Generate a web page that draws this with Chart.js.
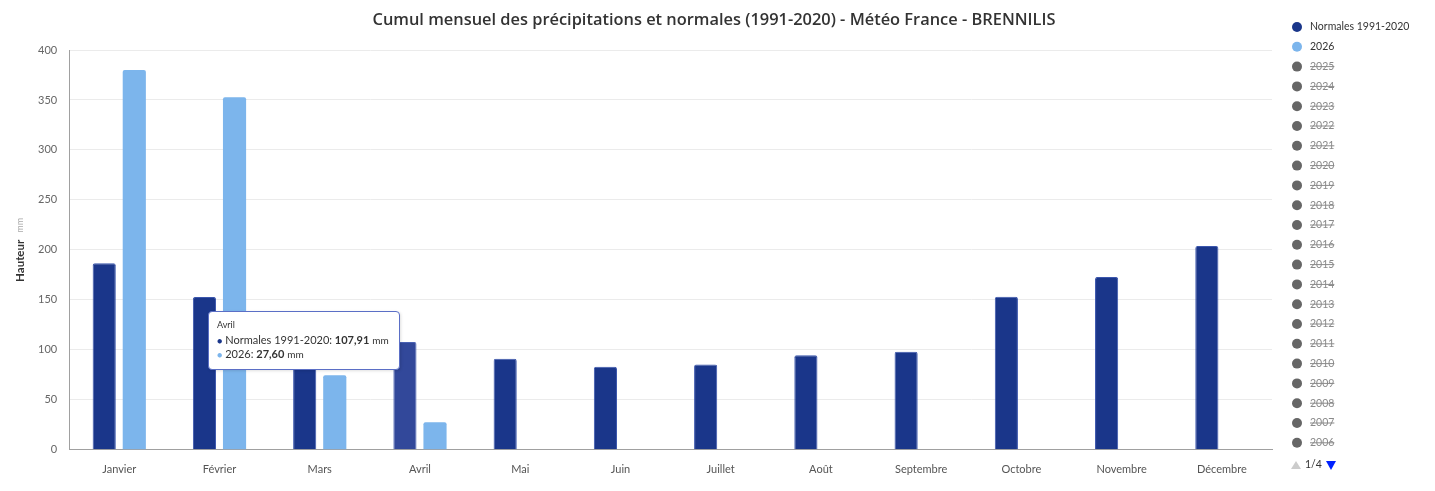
<!DOCTYPE html>
<html>
<head>
    <title>Cumul mensuel des précipitations - BRENNILIS</title>
    <script src="https://cdn.jsdelivr.net/npm/chart.js"></script>
    <style>
        body { margin: 0; background: #ffffff; font-family: Lato, sans-serif; }
        #wrap { position: relative; width: 1435px; height: 491px; }
        #tip {
            position: absolute; opacity: 0; pointer-events: none;
            background: #fff; border: 1px solid #5b6fc6; border-radius: 4px;
            padding: 7px 10px 8px 8px; font-family: Lato, sans-serif; color: #333;
            box-shadow: 1px 1px 3px rgba(0,0,0,0.12); white-space: nowrap;
        }
        #tip .t-title { font-size: 9px; margin-bottom: 3px; }
        #tip .t-row { font-size: 11px; line-height: 13px; }
        #tip .t-row small { font-size: 10px; }
    </style>
</head>
<body>
    <div id="wrap">
        <canvas id="rainChart"></canvas>
        <div id="tip"></div>
    </div>

    <script>
        console.log("JavaScript is running");

        const months = ['Janvier', 'Février', 'Mars', 'Avril', 'Mai', 'Juin', 'Juillet', 'Août', 'Septembre', 'Octobre', 'Novembre', 'Décembre'];
        const normals = [186.7, 153, 122, 107.91, 91, 83, 85.3, 94.7, 98, 153.2, 173, 203.8];
        const year2026 = [380, 352.7, 74.6, 27.6, null, null, null, null, null, null, null, null];
        const hiddenYears = ['2025', '2024', '2023', '2022', '2021', '2020', '2019', '2018', '2017', '2016',
                             '2015', '2014', '2013', '2012', '2011', '2010', '2009', '2008', '2007', '2006'];
        const yTicks = [0, 50, 100, 150, 200, 250, 300, 350, 400];

        const chartTitle = 'Cumul mensuel des précipitations et normales (1991-2020) - Météo France - BRENNILIS';

        function fmt(v) {
            return v.toFixed(2).replace('.', ',');
        }

        function externalTooltip(context) {
            const { chart, tooltip } = context;
            const el = document.getElementById('tip');
            if (tooltip.opacity === 0) {
                el.style.opacity = 0;
                return;
            }
            const idx = tooltip.dataPoints[0].dataIndex;
            let html = `<div class="t-title">${months[idx]}</div>`;
            tooltip.dataPoints.forEach(p => {
                html += `<div class="t-row"><span style="color:${p.dataset.backgroundColor};font-size:9px">●</span> ${p.dataset.label}: <b>${fmt(p.raw)}</b> <small>mm</small></div>`;
            });
            el.innerHTML = html;
            el.style.opacity = 1;
            el.style.left = (tooltip.caretX - el.offsetWidth - 20) + 'px';
            el.style.top = (tooltip.caretY - el.offsetHeight - 12) + 'px';
        }

        // title, y axis title and side legend drawn on the canvas
        const decorations = {
            id: 'decorations',
            afterDraw(chart) {
                const ctx = chart.ctx;
                const area = chart.chartArea;
                ctx.save();

                // title
                ctx.font = '600 16.4px "Open Sans"';
                ctx.fillStyle = '#333333';
                ctx.textAlign = 'center';
                ctx.textBaseline = 'middle';
                ctx.fillText(chartTitle, 714, 20);

                // y axis title "Hauteur mm"
                ctx.translate(20, (area.top + area.bottom) / 2);
                ctx.rotate(-Math.PI / 2);
                ctx.font = 'bold 11.5px Lato';
                const w1 = ctx.measureText('Hauteur').width;
                ctx.font = '9px Lato';
                const w2 = ctx.measureText('mm').width;
                const start = -(w1 + 7 + w2) / 2;
                ctx.textAlign = 'left';
                ctx.font = 'bold 11.5px Lato';
                ctx.fillStyle = '#333333';
                ctx.fillText('Hauteur', start, 0);
                ctx.font = '9px Lato';
                ctx.fillStyle = '#aaaaaa';
                ctx.fillText('mm', start + w1 + 7, 0);
                ctx.restore();

                // legend
                ctx.save();
                ctx.textAlign = 'left';
                ctx.textBaseline = 'middle';
                ctx.font = '10.5px Lato';
                chart.data.datasets.forEach((ds, i) => {
                    const y = 27 + i * 19.8;
                    const visible = chart.isDatasetVisible(i);
                    ctx.beginPath();
                    ctx.arc(1297, y, 5, 0, Math.PI * 2);
                    ctx.fillStyle = visible ? ds.backgroundColor : '#666666';
                    ctx.fill();
                    ctx.fillStyle = visible ? '#333333' : '#8a8a8a';
                    ctx.fillText(ds.label, 1310, y);
                    if (!visible) {
                        const tw = ctx.measureText(ds.label).width;
                        ctx.fillRect(1310, y - 0.5, tw, 1);
                    }
                });

                // pager
                const py = 465;
                ctx.fillStyle = '#cccccc';
                ctx.beginPath();
                ctx.moveTo(1291, py + 4); ctx.lineTo(1301, py + 4); ctx.lineTo(1296, py - 4);
                ctx.fill();
                ctx.fillStyle = '#333333';
                ctx.font = '10.5px Lato';
                ctx.fillText('1/4', 1305, py);
                ctx.fillStyle = '#0022ff';
                ctx.beginPath();
                ctx.moveTo(1326, py - 4); ctx.lineTo(1336, py - 4); ctx.lineTo(1331, py + 5);
                ctx.fill();
                ctx.restore();
            }
        };

        function renderChart() {
            const datasets = [
                {
                    label: 'Normales 1991-2020',
                    data: normals,
                    backgroundColor: '#1a368a',
                    hoverBackgroundColor: '#32489a',
                    borderColor: '#3b56ad',
                    hoverBorderColor: '#4a62b4',
                    borderWidth: 1,
                    borderRadius: 2,
                    borderSkipped: 'bottom'
                },
                {
                    label: '2026',
                    data: year2026,
                    backgroundColor: '#7cb5ec',
                    hoverBackgroundColor: '#7cb5ec',
                    borderWidth: 0,
                    borderRadius: 2,
                    borderSkipped: 'bottom'
                }
            ];
            hiddenYears.forEach(y => {
                datasets.push({ label: y, data: [], hidden: true, backgroundColor: '#666666' });
            });

            const chart = new Chart(document.getElementById('rainChart'), {
                type: 'bar',
                data: { labels: months, datasets: datasets },
                options: {
                    responsive: true,
                    maintainAspectRatio: false,
                    animation: false,
                    categoryPercentage: 0.6,
                    barPercentage: 0.77,
                    layout: { padding: { left: 26, right: 163, top: 50, bottom: 2 } },
                    interaction: { mode: 'index', intersect: false },
                    plugins: {
                        legend: { display: false },
                        title: { display: false },
                        tooltip: { enabled: false, external: externalTooltip }
                    },
                    scales: {
                        x: {
                            grid: { display: false, drawTicks: false },
                            border: { display: true, color: '#a0a0a0', width: 1 },
                            ticks: { color: '#555555', padding: 13, font: { family: 'Lato', size: 11 } }
                        },
                        y: {
                            min: 0,
                            max: 400,
                            afterBuildTicks: axis => { axis.ticks = yTicks.map(v => ({ value: v })); },
                            grid: { color: '#ebebeb', drawTicks: false },
                            border: { display: true, color: '#a0a0a0', width: 1 },
                            ticks: { color: '#666666', padding: 12, font: { family: 'Lato', size: 11 } }
                        }
                    }
                },
                plugins: [decorations]
            });

            // show the tooltip on Avril, as in the original capture
            const active = [{ datasetIndex: 0, index: 3 }, { datasetIndex: 1, index: 3 }];
            const bar = chart.getDatasetMeta(0).data[3];
            chart.setActiveElements(active);
            chart.tooltip.setActiveElements(active, { x: bar.x, y: bar.y });
            chart.update();
        }

        document.addEventListener("DOMContentLoaded", function() {
            console.log("DOM fully loaded and parsed");
            renderChart();
        });
    </script>
</body>
</html>
